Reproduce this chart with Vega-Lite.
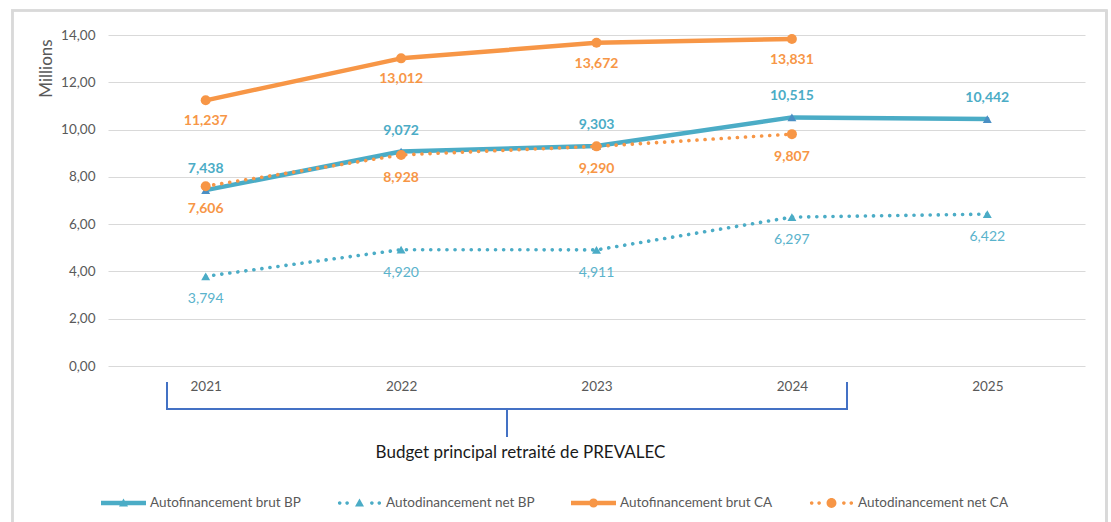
{
  "$schema": "https://vega.github.io/schema/vega-lite/v6.json",
  "width": 977,
  "height": 331,
  "autosize": {"type": "none"},
  "padding": {"left": 108, "top": 35, "right": 26, "bottom": 156},
  "background": "white",
  "config": {
    "font": "Lato",
    "view": {"stroke": null},
    "locale": {"number": {"decimal": ",", "thousands": " ", "grouping": [3], "currency": ["", " €"]}},
    "axisX": {"titleFont": "Lato", "titleFontSize": 17, "titleFontWeight": "normal", "titleColor": "#1a1a1a", "labelFont": "Lato", "labelFontSize": 13.5, "labelColor": "#595959"},
    "axisY": {"titleFont": "Lato", "titleFontSize": 17, "titleFontWeight": "normal", "titleColor": "#595959", "labelFont": "Lato", "labelFontSize": 13.5, "labelColor": "#595959"},
    "legend": {
      "orient": "none",
      "legendX": -7,
      "legendY": 445.5,
      "direction": "horizontal",
      "padding": 0,
      "symbolSize": 2025,
      "symbolStrokeWidth": 0,
      "symbolOpacity": 1,
      "labelFont": "Lato",
      "labelFontSize": 13.5,
      "labelColor": "#595959",
      "labelOffset": 4,
      "labelLimit": 300,
      "columnPadding": 36
    }
  },
  "data": {
    "values": [
      {"year": 2021, "series": "Autofinancement brut BP", "value": 7.438},
      {"year": 2022, "series": "Autofinancement brut BP", "value": 9.072},
      {"year": 2023, "series": "Autofinancement brut BP", "value": 9.303},
      {"year": 2024, "series": "Autofinancement brut BP", "value": 10.515},
      {"year": 2025, "series": "Autofinancement brut BP", "value": 10.442},
      {"year": 2021, "series": "Autodinancement net BP", "value": 3.794},
      {"year": 2022, "series": "Autodinancement net BP", "value": 4.920},
      {"year": 2023, "series": "Autodinancement net BP", "value": 4.911},
      {"year": 2024, "series": "Autodinancement net BP", "value": 6.297},
      {"year": 2025, "series": "Autodinancement net BP", "value": 6.422},
      {"year": 2021, "series": "Autofinancement brut CA", "value": 11.237},
      {"year": 2022, "series": "Autofinancement brut CA", "value": 13.012},
      {"year": 2023, "series": "Autofinancement brut CA", "value": 13.672},
      {"year": 2024, "series": "Autofinancement brut CA", "value": 13.831},
      {"year": 2021, "series": "Autodinancement net CA", "value": 7.606},
      {"year": 2022, "series": "Autodinancement net CA", "value": 8.928},
      {"year": 2023, "series": "Autodinancement net CA", "value": 9.290},
      {"year": 2024, "series": "Autodinancement net CA", "value": 9.807}
    ]
  },
  "encoding": {
    "x": {
      "field": "year",
      "type": "quantitative",
      "scale": {"domain": [2020.5, 2025.5], "nice": false, "zero": false},
      "axis": {
        "values": [2021, 2022, 2023, 2024, 2025],
        "format": "d",
        "grid": false,
        "ticks": false,
        "domain": false,
        "labelPadding": 13,
        "title": "Budget principal retraité de PREVALEC",
        "titleFontSize": 17,
        "titleFontWeight": "normal",
        "titleColor": "#1a1a1a",
        "titleX": 412,
        "titleY": 86,
        "titleAlign": "center",
        "titleBaseline": "middle"
      }
    },
    "y": {
      "field": "value",
      "type": "quantitative",
      "scale": {"domain": [0, 14], "nice": false, "zero": true},
      "axis": {
        "values": [0, 2, 4, 6, 8, 10, 12, 14],
        "format": ".2f",
        "grid": true,
        "gridColor": "#d9d9d9",
        "gridWidth": 1,
        "ticks": false,
        "domain": false,
        "labelPadding": 13,
        "title": "Millions",
        "titleFontSize": 17,
        "titleFontWeight": "normal",
        "titleColor": "#595959",
        "titleAngle": 270,
        "titleX": -62,
        "titleY": 33,
        "titleAlign": "center",
        "titleBaseline": "middle"
      }
    }
  },
  "layer": [
    {
      "transform": [{"filter": "datum.series === 'Autofinancement brut BP'"}],
      "mark": {"type": "line", "color": "#4bacc6", "strokeWidth": 4.5, "strokeCap": "round", "strokeJoin": "round"}
    },
    {
      "mark": {"type": "rect", "fill": null, "stroke": "#d9d9d9", "strokeWidth": 1.5, "clip": false},
      "encoding": {
        "x": {"datum": 2020.011, "type": "quantitative"},
        "x2": {"datum": 2025.61},
        "y": {"datum": 15.036, "type": "quantitative"},
        "y2": {"datum": -9}
      }
    },
    {
      "mark": {"type": "rule", "color": "#4472c4", "strokeWidth": 1.5, "strokeCap": "round"},
      "encoding": {
        "x": {"datum": 2020.802, "type": "quantitative"},
        "y": {"datum": -0.72, "type": "quantitative"},
        "y2": {"datum": -1.82}
      }
    },
    {
      "mark": {"type": "rule", "color": "#4472c4", "strokeWidth": 1.5, "strokeCap": "round"},
      "encoding": {
        "x": {"datum": 2024.282, "type": "quantitative"},
        "y": {"datum": -0.72, "type": "quantitative"},
        "y2": {"datum": -1.82}
      }
    },
    {
      "mark": {"type": "rule", "color": "#4472c4", "strokeWidth": 1.5, "strokeCap": "round"},
      "encoding": {
        "x": {"datum": 2020.802, "type": "quantitative"},
        "x2": {"datum": 2024.282},
        "y": {"datum": -1.82, "type": "quantitative"}
      }
    },
    {
      "mark": {"type": "rule", "color": "#4472c4", "strokeWidth": 1.5, "strokeCap": "round"},
      "encoding": {
        "x": {"datum": 2022.542, "type": "quantitative"},
        "y": {"datum": -1.82, "type": "quantitative"},
        "y2": {"datum": -2.96}
      }
    },
    {
      "transform": [{"filter": "datum.series === 'Autodinancement net BP'"}],
      "mark": {"type": "line", "color": "#4bacc6", "strokeWidth": 3.6, "strokeDash": [0.1, 8], "strokeCap": "round"}
    },
    {
      "transform": [{"filter": "datum.series === 'Autofinancement brut CA'"}],
      "mark": {"type": "line", "color": "#f79646", "strokeWidth": 4.5, "strokeCap": "round", "strokeJoin": "round"}
    },
    {
      "transform": [{"filter": "datum.series === 'Autodinancement net CA'"}],
      "mark": {"type": "line", "color": "#f79646", "strokeWidth": 3.6, "strokeDash": [0.1, 8], "strokeCap": "round"}
    },
    {
      "transform": [{"filter": "datum.series === 'Autofinancement brut BP'"}],
      "mark": {"type": "point", "shape": "triangle-up", "filled": true, "color": "#4a8fc4", "size": 80, "opacity": 1}
    },
    {
      "transform": [{"filter": "datum.series === 'Autodinancement net BP'"}],
      "mark": {"type": "point", "shape": "triangle-up", "filled": true, "color": "#4bacc6", "size": 80, "opacity": 1}
    },
    {
      "transform": [{"filter": "datum.series === 'Autofinancement brut CA' || datum.series === 'Autodinancement net CA'"}],
      "mark": {"type": "point", "shape": "circle", "filled": true, "color": "#f79646", "size": 100, "opacity": 1}
    },
    {
      "transform": [{"filter": "datum.series === 'Autofinancement brut BP'"}],
      "mark": {"type": "text", "color": "#4bacc6", "fontWeight": "bold", "fontSize": 14, "font": "Lato", "dy": -21, "baseline": "middle"},
      "encoding": {"text": {"field": "value", "type": "quantitative", "format": ".3f"}}
    },
    {
      "transform": [{"filter": "datum.series === 'Autodinancement net BP'"}],
      "mark": {"type": "text", "color": "#5ab3cc", "fontWeight": "normal", "fontSize": 14, "font": "Lato", "dy": 23, "baseline": "middle"},
      "encoding": {"text": {"field": "value", "type": "quantitative", "format": ".3f"}}
    },
    {
      "transform": [{"filter": "datum.series === 'Autofinancement brut CA'"}],
      "mark": {"type": "text", "color": "#f79646", "fontWeight": "bold", "fontSize": 14, "font": "Lato", "dy": 21, "baseline": "middle"},
      "encoding": {"text": {"field": "value", "type": "quantitative", "format": ".3f"}}
    },
    {
      "transform": [{"filter": "datum.series === 'Autodinancement net CA'"}],
      "mark": {"type": "text", "color": "#f79646", "fontWeight": "bold", "fontSize": 14, "font": "Lato", "dy": 23, "baseline": "middle"},
      "encoding": {"text": {"field": "value", "type": "quantitative", "format": ".3f"}}
    },
    {
      "transform": [{"filter": "datum.value < -100"}],
      "mark": {"type": "point", "filled": true, "opacity": 1},
      "encoding": {
        "color": {
          "field": "series",
          "type": "nominal",
          "title": null,
          "scale": {
            "domain": ["Autofinancement brut BP", "Autodinancement net BP", "Autofinancement brut CA", "Autodinancement net CA"],
            "range": ["#4bacc6", "#4bacc6", "#f79646", "#f79646"]
          }
        },
        "shape": {
          "field": "series",
          "type": "nominal",
          "title": null,
          "scale": {
            "domain": ["Autofinancement brut BP", "Autodinancement net BP", "Autofinancement brut CA", "Autodinancement net CA"],
            "range": [
              "M-1,-0.1H1V0.1H-1Z M-0.2,0.16L0,-0.2L0.2,0.16Z",
              "M-0.96,0a0.08,0.08 0 1,1 0.16,0a0.08,0.08 0 1,1 -0.16,0Z M-0.63,0a0.08,0.08 0 1,1 0.16,0a0.08,0.08 0 1,1 -0.16,0Z M0.47,0a0.08,0.08 0 1,1 0.16,0a0.08,0.08 0 1,1 -0.16,0Z M0.8,0a0.08,0.08 0 1,1 0.16,0a0.08,0.08 0 1,1 -0.16,0Z M-0.2,0.16L0,-0.2L0.2,0.16Z",
              "M-1,-0.1H1V0.1H-1Z M-0.2,0a0.2,0.2 0 1,1 0.4,0a0.2,0.2 0 1,1 -0.4,0Z",
              "M-0.96,0a0.08,0.08 0 1,1 0.16,0a0.08,0.08 0 1,1 -0.16,0Z M-0.63,0a0.08,0.08 0 1,1 0.16,0a0.08,0.08 0 1,1 -0.16,0Z M0.47,0a0.08,0.08 0 1,1 0.16,0a0.08,0.08 0 1,1 -0.16,0Z M0.8,0a0.08,0.08 0 1,1 0.16,0a0.08,0.08 0 1,1 -0.16,0Z M-0.22,0a0.22,0.22 0 1,1 0.44,0a0.22,0.22 0 1,1 -0.44,0Z"
            ]
          }
        }
      }
    }
  ]
}
